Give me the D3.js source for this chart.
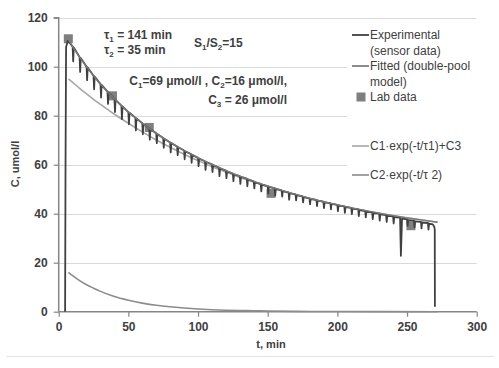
<!DOCTYPE html>
<html><head><meta charset="utf-8">
<script src="https://cdn.jsdelivr.net/npm/d3@7"></script>
<style>body{margin:0;background:#fff;} svg{display:block;}</style>
</head><body>
<svg id="c" width="499" height="368"></svg>
<script>
const xTicks = [0, 50, 100, 150, 200, 250, 300];
const yTicks = [0, 20, 40, 60, 80, 100, 120];

const expT = [4.6, 4.9, 5.3, 6.5, 7.5,
 10,10.4,10.8, 15,15.4,15.8, 20,20.4,20.8, 25,25.4,25.8, 30,30.4,30.8, 35,35.4,35.8, 40,40.4,40.8, 45,45.4,45.8,
 50,50.4,50.8, 55,55.4,55.8, 60,60.4,60.8, 65,65.4,65.8, 70,70.4,70.8, 75,75.4,75.8, 80,80.4,80.8, 85,85.4,85.8,
 90,90.4,90.8, 95,95.4,95.8, 100,100.4,100.8, 105,105.4,105.8, 110,110.4,110.8, 115,115.4,115.8, 120,120.4,120.8,
 125,125.4,125.8, 130,130.4,130.8, 135,135.4,135.8, 140,140.4,140.8, 145,145.4,145.8, 150,150.4,150.8, 155,155.4,155.8,
 160,160.4,160.8, 165,165.4,165.8, 170,170.4,170.8, 175,175.4,175.8, 180,180.4,180.8, 185,185.4,185.8, 190,190.4,190.8,
 195,195.4,195.8, 200,200.4,200.8, 205,205.4,205.8, 210,210.4,210.8, 215,215.4,215.8, 220,220.4,220.8, 225,225.4,225.8,
 230,230.4,230.8, 235,235.4,235.8, 240,240.4,240.8, 245,245.6,246.4, 250,250.4,250.8, 255,255.4,255.8, 260,260.4,260.8,
 265,265.4,265.8, 268.5, 269.5, 269.9, 270.0];
const expC = [0, 60, 108, 110.5, 110.0,
 108.2,102.2,107.9, 103.9,97.9,103.6, 100.0,94.5,99.7, 96.3,90.8,96.0, 92.9,87.4,92.6, 89.8,84.8,89.5, 86.8,81.5,86.5, 84.1,78.6,83.8,
 81.5,76.5,81.2, 79.2,74.0,78.9, 76.9,72.4,76.6, 74.8,70.2,74.5, 72.8,68.8,72.5, 70.9,66.9,70.6, 69.1,65.0,68.8, 67.4,63.9,67.1,
 65.8,62.2,65.5, 64.3,60.8,64.0, 62.8,59.4,62.5, 61.4,57.9,61.1, 60.1,57.0,59.8, 58.8,55.3,58.5, 57.6,54.5,57.3,
 56.4,53.3,56.1, 55.3,52.2,55.0, 54.3,51.2,54.0, 53.2,50.3,52.9, 52.2,49.1,51.9, 51.3,48.2,51.0, 50.4,47.4,50.1,
 49.5,47.0,49.2, 48.7,45.7,48.4, 47.9,45.4,47.6, 47.1,44.6,46.8, 46.3,43.8,46.0, 45.6,43.1,45.3, 44.9,42.3,44.6,
 44.3,41.8,44.0, 43.6,41.0,43.3, 43.0,40.3,42.7, 42.4,39.8,42.1, 41.8,39.0,41.5, 41.1,38.5,40.8, 40.5,37.8,40.2,
 40.0,37.2,39.7, 39.4,36.6,39.1, 38.9,36.0,38.6, 38.4,22.8,38.0, 37.7,35.0,37.4, 37.2,34.4,36.9, 36.7,34.0,36.4,
 36.2,33.5,35.9, 35.6, 34.8, 33.5, 2];

const fitT = [7,10,15,20,25,30,35,40,50,60,70,80,90,100,110,120,130,140,150,160,170,180,190,200,210,220,230,240,250,260,272];
const fitC = [111,108.2,103.9,100.0,96.3,92.9,89.8,86.8,81.5,76.9,72.8,69.1,65.8,62.8,60.1,57.6,55.3,53.2,51.3,49.5,47.9,46.3,44.9,43.6,42.4,41.3,40.2,39.2,38.3,37.5,36.5];

const c1T = [7,10,15,20,25,30,40,50,60,70,80,90,100,110,120,130,140,150,160,170,180,190,200,210,220,230,240,250,260,272];
const c1C = [95,93.6,91.2,88.9,86.7,84.6,80.6,76.9,73.4,70.1,67.1,64.3,61.7,59.2,57.0,54.8,52.9,51.0,49.3,47.7,46.2,44.8,43.6,42.4,41.2,40.2,39.2,38.3,37.5,36.5];

const c2T = [7,10,15,20,25,30,40,50,60,70,80,90,100,110,120,130,140,150,170,200,230,272];
const c2C = [16,14.7,12.7,11.0,9.6,8.3,6.2,4.7,3.5,2.6,2.0,1.5,1.1,0.8,0.6,0.5,0.4,0.3,0.15,0.06,0.03,0.01];

const labT = [6.9, 38.6, 65, 152.4, 252.8];
const labC = [111.4, 88.1, 75.2, 48.3, 35.1];

const svg = d3.select("#c");
const x = d3.scaleLinear().domain([0, 300]).range([58.7, 476.7]);
const y = d3.scaleLinear().domain([0, 120]).range([311.7, 17.7]);
const FONT = "'Liberation Sans', Arial, sans-serif";
const TXT = "#404040";

// bottom separator
svg.append("line").attr("x1", 6).attr("x2", 494).attr("y1", 356.5).attr("y2", 356.5)
  .attr("stroke", "#e3e3e3").attr("stroke-width", 1);

// gridlines
svg.append("g").selectAll("line").data(yTicks.filter(d => d > 0)).join("line")
  .attr("x1", x(0)).attr("x2", x(300))
  .attr("y1", d => Math.round(y(d)) + 0.5).attr("y2", d => Math.round(y(d)) + 0.5)
  .attr("stroke", "#d9d9d9").attr("stroke-width", 1);

// legend background covering gridlines
svg.append("rect").attr("x", 347).attr("y", 23).attr("width", 140).attr("height", 165).attr("fill", "#fff");

// axes
const yAxis = svg.append("g").attr("transform", `translate(${x(0)},0)`)
  .call(d3.axisLeft(y).tickValues(yTicks).tickSize(5).tickPadding(6));
const xAxis = svg.append("g").attr("transform", `translate(0,${y(0)})`)
  .call(d3.axisBottom(x).tickValues(xTicks).tickSize(5).tickPadding(6));
[yAxis, xAxis].forEach(g => {
  g.select(".domain").attr("stroke", "#868686").attr("stroke-width", 1.5);
  g.selectAll(".tick line").attr("stroke", "#868686").attr("stroke-width", 1.2);
  g.selectAll(".tick text").attr("fill", TXT).attr("font-family", FONT)
    .attr("font-weight", "bold").attr("font-size", 12);
});
yAxis.select(".domain").attr("d", `M-5,${y(120)}H0V${y(0)}`);
xAxis.select(".domain").attr("d", `M${x(0)},0H${x(300)}`);

// axis titles
svg.append("text").attr("transform", "translate(19,164) rotate(-90)")
  .attr("text-anchor", "middle").attr("font-family", FONT).attr("font-weight", "bold")
  .attr("font-size", 11).attr("fill", TXT).text("C, umol/l");
svg.append("text").attr("x", 271).attr("y", 348)
  .attr("text-anchor", "middle").attr("font-family", FONT).attr("font-weight", "bold")
  .attr("font-size", 11).attr("fill", TXT).text("t, min");

// lines
const line = d3.line().x(d => x(d[0])).y(d => y(d[1]));
const smooth = d3.line().x(d => x(d[0])).y(d => y(d[1])).curve(d3.curveMonotoneX);

svg.append("path").datum(d3.zip(c1T, c1C)).attr("d", smooth)
  .attr("fill", "none").attr("stroke", "#a6a6a6").attr("stroke-width", 1.6);
svg.append("path").datum(d3.zip(c2T, c2C)).attr("d", smooth)
  .attr("fill", "none").attr("stroke", "#8c8c8c").attr("stroke-width", 1.6);

svg.append("g").selectAll("rect").data(d3.zip(labT, labC)).join("rect")
  .attr("x", d => x(d[0]) - 4.5).attr("y", d => y(d[1]) - 4.5)
  .attr("width", 9).attr("height", 9).attr("fill", "#7f7f7f");

svg.append("path").datum(d3.zip(expT, expC)).attr("d", line)
  .attr("fill", "none").attr("stroke", "#404040").attr("stroke-width", 1.8)
  .attr("stroke-linejoin", "round");
svg.append("path").datum(d3.zip(fitT, fitC)).attr("d", smooth)
  .attr("fill", "none").attr("stroke", "#7a7a7a").attr("stroke-width", 1.4);

// annotations
function sub(t, parts, xx, yy, anchor) {
  const tx = svg.append("text").attr("x", xx).attr("y", yy).attr("font-family", FONT)
    .attr("font-weight", "bold").attr("font-size", 12).attr("fill", TXT)
    .attr("text-anchor", anchor || "start");
  parts.forEach(p => {
    if (p.s) tx.append("tspan").attr("font-size", 8).attr("dy", 3).text(p.s);
    else tx.append("tspan").attr("dy", p.after ? -3 : 0).text(p.t);
  });
}
sub(null, [{t: "τ"}, {s: "1"}, {t: " = 141 min", after: true}], 104, 38.5);
sub(null, [{t: "τ"}, {s: "2"}, {t: " = 35 min", after: true}], 104, 53.5);
sub(null, [{t: "S"}, {s: "1"}, {t: "/S", after: true}, {s: "2"}, {t: "=15", after: true}], 194, 46.5);
sub(null, [{t: "C"}, {s: "1"}, {t: "=69 μmol/l , C", after: true}, {s: "2"}, {t: "=16 μmol/l,", after: true}], 287, 84.5, "end");
sub(null, [{t: "C"}, {s: "3"}, {t: " = 26 μmol/l", after: true}], 287, 103.5, "end");

// legend
const lg = svg.append("g").attr("font-family", FONT).attr("font-size", 12).attr("fill", TXT);
const legendLines = [
  {y: 35, color: "#404040", w: 1.8, lines: ["Experimental", "(sensor data)"]},
  {y: 66, color: "#6e6e6e", w: 1.6, lines: ["Fitted (double-pool", "model)"]},
  {y: 146, color: "#a6a6a6", w: 1.6, lines: ["C1·exp(-t/τ1)+C3"]},
  {y: 175, color: "#8c8c8c", w: 1.6, lines: ["C2·exp(-t/τ 2)"]}
];
legendLines.forEach(e => {
  lg.append("line").attr("x1", 352).attr("x2", 369).attr("y1", e.y).attr("y2", e.y)
    .attr("stroke", e.color).attr("stroke-width", e.w);
  e.lines.forEach((t, i) => lg.append("text").attr("x", 370).attr("y", e.y + 4 + i * 15.5).text(t));
});
lg.append("rect").attr("x", 356.5).attr("y", 92.5).attr("width", 9).attr("height", 9).attr("fill", "#7f7f7f");
lg.append("text").attr("x", 370).attr("y", 101).text("Lab data");
</script>
</body></html>
